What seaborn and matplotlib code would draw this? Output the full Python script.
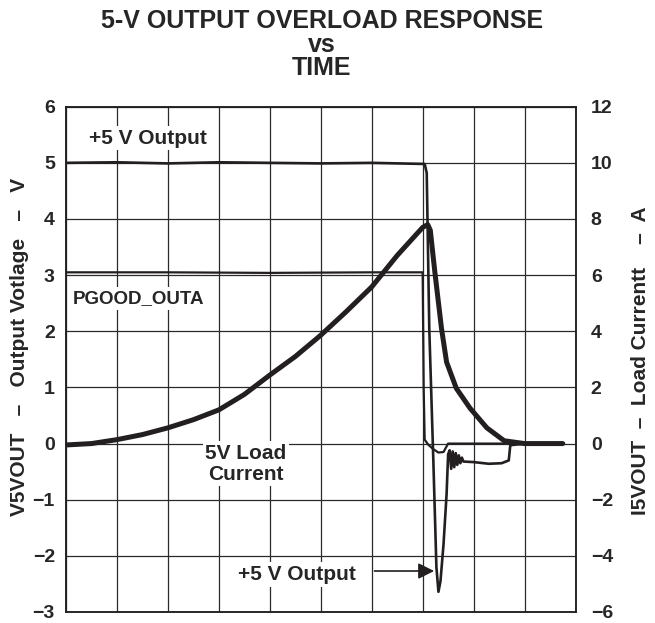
import numpy as np
import pandas as pd
import matplotlib.pyplot as plt
import seaborn as sns

# time axis in scope divisions (10 divisions, no labels)
# +5 V output trace (V, left axis)
t_out5 = [0, 1, 2, 3, 4, 5, 6, 7.04, 7.08, 7.13, 7.21, 7.27, 7.31, 7.35, 7.41, 7.47, 7.50,
          7.53, 7.56, 7.59, 7.62, 7.65, 7.68, 7.71, 7.74, 7.77, 7.80,
          8.0, 8.3, 8.55, 8.69, 8.72, 9.0, 9.4, 9.75]
v_out5 = [5.0, 5.01, 4.99, 5.01, 5.0, 4.99, 5.0, 4.98, 4.82, 2.05, -0.31, -2.2, -2.64, -2.45, -1.79, -0.9, -0.19,
          -0.12, -0.45, -0.14, -0.42, -0.17, -0.38, -0.21, -0.35, -0.25, -0.32,
          -0.33, -0.36, -0.35, -0.3, -0.03, 0.0, -0.02, 0.0]

# PGOOD_OUTA trace (V, left axis)
t_pgood = [0, 2, 4, 6, 7.0, 7.02, 7.04, 7.11, 7.21, 7.31, 7.41, 7.5, 8.0, 9.0, 9.75]
v_pgood = [3.05, 3.05, 3.04, 3.05, 3.05, 1.0, 0.07, -0.02, -0.1, -0.16, -0.15, 0.0, 0.0, 0.0, 0.0]

# 5 V load current trace (A, right axis)
t_cur = [0, 0.5, 1, 1.5, 2, 2.5, 3, 3.5, 4, 4.5, 5, 5.5, 6, 6.5, 7, 7.1, 7.15,
         7.24, 7.37, 7.47, 7.66, 7.93, 8.26, 8.6, 9.0, 9.75]
i_cur = [-0.05, 0.0, 0.14, 0.32, 0.56, 0.85, 1.2, 1.75, 2.44, 3.1, 3.86, 4.7, 5.58, 6.7, 7.7, 7.8, 7.6,
         6.1, 4.1, 2.9, 1.97, 1.26, 0.56, 0.1, 0.0, 0.0]

left_ticks = [-3, -2, -1, 0, 1, 2, 3, 4, 5, 6]
right_ticks = [-6, -4, -2, 0, 2, 4, 6, 8, 10, 12]

sns.set_style('white')
plt.rcParams['font.family'] = ['Liberation Sans', 'DejaVu Sans']
plt.rcParams['font.weight'] = 'bold'

ink = '#231f20'

fig = plt.figure(figsize=(6.55, 6.23), dpi=100)
ax = fig.add_axes([66 / 655, 11 / 623, 509.5 / 655, 505.3 / 623])
ax2 = ax.twinx()

sns.lineplot(x=t_out5, y=v_out5, ax=ax, sort=False, estimator=None, color=ink, lw=1.9)
sns.lineplot(x=t_pgood, y=v_pgood, ax=ax, sort=False, estimator=None, color=ink, lw=1.6)
sns.lineplot(x=t_cur, y=i_cur, ax=ax2, sort=False, estimator=None, color=ink, lw=3.6)

ax.set_xlim(0, 10)
ax.set_ylim(-3, 6)
ax2.set_ylim(-6, 12)
ax.set_xticks(range(11))
ax.set_xticklabels([])
ax.set_yticks(left_ticks)
ax.set_yticklabels([str(v).replace('-', '\u2212') for v in left_ticks], fontsize=14, fontweight='bold')
ax2.set_yticks(right_ticks)
ax2.set_yticklabels([str(v).replace('-', '\u2212') for v in right_ticks], fontsize=14, fontweight='bold')
ax.tick_params(length=0, pad=8)
ax2.tick_params(length=0, pad=11)
ax.grid(True, color='#2a2a2a', lw=0.9)
ax2.grid(False)
for a in (ax, ax2):
    for s in a.spines.values():
        s.set_color(ink)
        s.set_linewidth(1.1)

ax.set_ylabel('V5VOUT   \u2013   Output Votlage   \u2013   V', fontsize=15, fontweight='bold')
ax.yaxis.set_label_coords(-0.072, 0.525)
ax2.set_ylabel('I5VOUT  \u2013  Load Currentt    \u2013  A', fontsize=15, fontweight='bold')
ax2.yaxis.set_label_coords(1.108, 0.497)

# labels inside the plot
box = dict(facecolor='white', edgecolor='none', pad=2)
ax.text(1.6, 5.44, '+5 V Output', ha='center', va='center', fontsize=15, fontweight='bold', bbox=box, zorder=5)
ax.text(1.42, 2.58, 'PGOOD_OUTA', ha='center', va='center', fontsize=13.5, fontweight='bold', bbox=box, zorder=5)
ax.text(3.53, -0.36, '5V Load\nCurrent', ha='center', va='center', fontsize=15, fontweight='bold',
        linespacing=1.1, bbox=box, zorder=5)
ax.text(4.53, -2.33, '+5 V Output', ha='center', va='center', fontsize=15, fontweight='bold', bbox=box, zorder=5)
ax.annotate('', xy=(7.28, -2.27), xytext=(6.0, -2.27),
            arrowprops=dict(arrowstyle='-|>', color=ink, lw=1.2, mutation_scale=24))

fig.text(322 / 655, 1 - 9 / 623, '5-V OUTPUT OVERLOAD RESPONSE\nvs\nTIME', ha='center', va='top',
         fontsize=18, fontweight='bold', linespacing=0.98)

fig.savefig('out.png', dpi=100)
